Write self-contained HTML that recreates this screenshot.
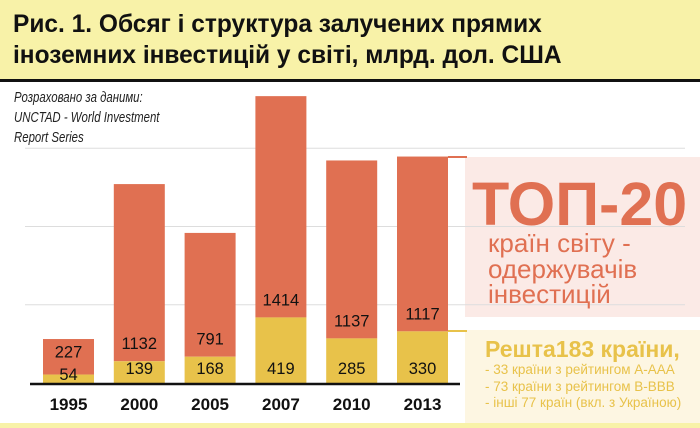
<!DOCTYPE html>
<html><head><meta charset="utf-8"><style>
body{margin:0;width:700px;height:428px;overflow:hidden;background:#fff;font-family:"Liberation Sans",sans-serif;position:relative}
#title{position:absolute;left:0;top:0;width:700px;height:79px;background:#f8f2a8;border-bottom:3px solid #111}
#title div{position:absolute;left:13px;top:9px;font:bold 25px/31px "Liberation Sans",sans-serif;color:#111;transform:scaleX(0.98);transform-origin:0 0;white-space:nowrap}
#src{position:absolute;left:14px;top:88px;font:italic 15px/20px "Liberation Sans",sans-serif;color:#222;transform:scaleX(0.76);transform-origin:0 0;white-space:nowrap}
#bot{position:absolute;left:0;top:423px;width:700px;height:5px;background:#f8f2a8}
</style></head><body>
<div id="title"><div>Рис. 1. Обсяг і структура залучених прямих<br>іноземних інвестицій у світі, млрд. дол. США</div></div>
<div id="src">Розраховано за даними:<br>UNCTAD - World Investment<br>Report Series</div>
<svg id="chart" width="700" height="428" style="position:absolute;left:0;top:0">
<rect x="465" y="157" width="235" height="160" fill="#fbeae6"/>
<rect x="465" y="330" width="235" height="93" fill="#fdf6e2"/>
<g id="grid"></g><g id="bars"></g>
<line x1="448" x2="467" y1="157" y2="157" stroke="#e07052" stroke-width="2"/>
<line x1="448" x2="467" y1="331" y2="331" stroke="#e8c24a" stroke-width="2"/>
<line x1="30" x2="460" y1="384" y2="384" stroke="#111" stroke-width="2.5"/>
<text x="472" y="225" font-size="61" font-weight="bold" fill="#e07052">ТОП-20</text>
<g font-size="26" fill="#e07052">
<text x="488" y="252">країн світу -</text><text x="488" y="278">одержувачів</text><text x="488" y="303">інвестицій</text></g>
<text x="485" y="357" font-size="23" font-weight="bold" fill="#e8c24a">Решта183 країни,</text>
<g font-size="13.5" fill="#e8c24a">
<text x="485" y="374">- 33 країни з рейтингом А-ААА</text><text x="485" y="391">- 73 країни з рейтингом В-ВВВ</text><text x="485" y="407">- інші 77 країн (вкл. з Україною)</text></g>
</svg>
<div id="bot"></div>
<script>
const years=["1995","2000","2005","2007","2010","2013"];
const top20=[227,1132,791,1414,1137,1117];
const rest=[54,139,168,419,285,330];
const gridVals=[500,1000,1500];
const ns="http://www.w3.org/2000/svg";
const base=383,k=0.1565,x0=43,step=70.8,bw=51;
const y=v=>base-v*k, xb=i=>x0+i*step;
function mk(t,a,p){const e=document.createElementNS(ns,t);for(const n in a)e.setAttribute(n,a[n]);p.appendChild(e);return e;}
const g=document.getElementById('grid'),b=document.getElementById('bars');
gridVals.forEach(v=>{const l=mk('line',{x1:25,x2:685,y1:y(v),y2:y(v),stroke:'#ddd','stroke-width':1},g);

});
years.forEach((yr,i)=>{
 const x=xb(i),r=rest[i],t=top20[i];
 const rt=mk('rect',{x:x,y:y(r+t),width:bw,height:t*k,fill:'#e07052'},b);
 
 
 const ry=mk('rect',{x:x,y:y(r),width:bw,height:r*k,fill:'#e8c24a'},b);
 
 
 const cx=x+bw/2;
 const lt=mk('text',{x:cx,y:r<100?y(r)-17:y(r)-12,'text-anchor':'middle','font-size':16.5,fill:'#111'},b);lt.textContent=t;
 
 
 const lr=mk('text',{x:cx,y:r<100?base-3:base-9,'text-anchor':'middle','font-size':16.5,fill:'#111'},b);lr.textContent=r;
 
 
 const ly=mk('text',{x:cx,y:410,'text-anchor':'middle','font-size':17,'font-weight':'bold',fill:'#111'},b);ly.textContent=yr;
 
 
});
</script>
</body></html>
